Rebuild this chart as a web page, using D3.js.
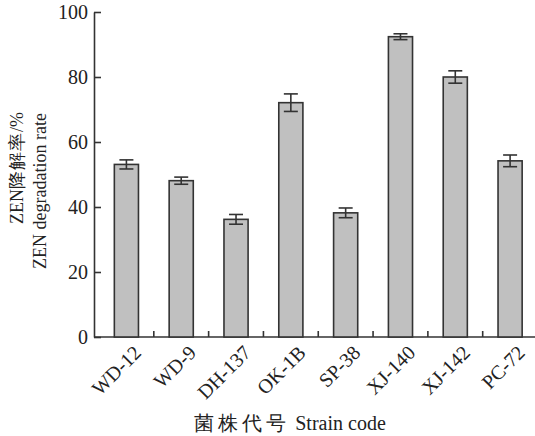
<!DOCTYPE html>
<html>
<head>
<meta charset="utf-8">
<script src="https://cdn.jsdelivr.net/npm/d3@7"></script>
<style>
  body { margin: 0; background: #fff; }
</style>
</head>
<body>
<svg width="535" height="436"></svg>
<script>
var strains = ["WD-12", "WD-9", "DH-137", "OK-1B", "SP-38", "XJ-140", "XJ-142", "PC-72"];
var rates = [53.1, 48.1, 36.2, 72.1, 38.2, 92.4, 80.0, 54.2];
var errs = [1.4, 1.1, 1.5, 2.7, 1.5, 0.9, 1.9, 1.8];
var yTicks = [0, 20, 40, 60, 80, 100];

var svg = d3.select("svg"),
    width = +svg.attr("width"),
    height = +svg.attr("height");

var ink = "#333";
var serif = "Liberation Serif, Times New Roman, serif";

var x = d3.scaleBand()
    .domain(strains)
    .range([99, 537.5])
    .paddingInner(0.56)
    .paddingOuter(0.28);

var y = d3.scaleLinear()
    .domain([0, 100])
    .range([337, 12]);

// y axis, ticks point inward
var yAxis = svg.append("g")
    .attr("transform", "translate(94,0)")
    .call(d3.axisLeft(y).tickValues(yTicks).tickSize(-7).tickSizeOuter(0).tickPadding(6));
yAxis.attr("font-family", serif).attr("font-size", 20);
yAxis.select(".domain").attr("stroke", ink).attr("stroke-width", 1.6);
yAxis.selectAll(".tick line").attr("stroke", ink).attr("stroke-width", 1.6);
yAxis.selectAll(".tick text").attr("fill", "#222");

// x axis line and ticks between bars
svg.append("line")
    .attr("x1", 94).attr("x2", 535)
    .attr("y1", y(0)).attr("y2", y(0))
    .attr("stroke", ink).attr("stroke-width", 1.6);

var step = x.step();
svg.selectAll(".xtick")
    .data(strains.slice(1))
    .enter()
    .append("line")
    .attr("class", "xtick")
    .attr("x1", function(d) { return x(d) + x.bandwidth() / 2 - step / 2; })
    .attr("x2", function(d) { return x(d) + x.bandwidth() / 2 - step / 2; })
    .attr("y1", y(0)).attr("y2", y(0) - 6)
    .attr("stroke", ink).attr("stroke-width", 1.6);

// bars
svg.selectAll(".bar")
    .data(strains)
    .enter()
    .append("rect")
    .attr("class", "bar")
    .attr("x", function(d) { return x(d); })
    .attr("y", function(d, i) { return y(rates[i]); })
    .attr("width", x.bandwidth())
    .attr("height", function(d, i) { return y(0) - y(rates[i]); })
    .attr("fill", "#c0c0c0")
    .attr("stroke", ink)
    .attr("stroke-width", 1.6);

// error bars
var cap = 7;
var eb = svg.selectAll(".err")
    .data(strains)
    .enter()
    .append("g")
    .attr("class", "err")
    .attr("stroke", ink)
    .attr("stroke-width", 1.6);

eb.append("line")
    .attr("x1", function(d) { return x(d) + x.bandwidth() / 2; })
    .attr("x2", function(d) { return x(d) + x.bandwidth() / 2; })
    .attr("y1", function(d, i) { return y(rates[i] + errs[i]); })
    .attr("y2", function(d, i) { return y(rates[i] - errs[i]); });
eb.append("line")
    .attr("x1", function(d) { return x(d) + x.bandwidth() / 2 - cap; })
    .attr("x2", function(d) { return x(d) + x.bandwidth() / 2 + cap; })
    .attr("y1", function(d, i) { return y(rates[i] + errs[i]); })
    .attr("y2", function(d, i) { return y(rates[i] + errs[i]); });
eb.append("line")
    .attr("x1", function(d) { return x(d) + x.bandwidth() / 2 - cap; })
    .attr("x2", function(d) { return x(d) + x.bandwidth() / 2 + cap; })
    .attr("y1", function(d, i) { return y(rates[i] - errs[i]); })
    .attr("y2", function(d, i) { return y(rates[i] - errs[i]); });

// x labels, rotated 45 degrees
svg.selectAll(".xlab")
    .data(strains)
    .enter()
    .append("g")
    .attr("class", "xlab")
    .attr("transform", function(d) {
        return "translate(" + (x(d) + x.bandwidth() / 2 + 16) + "," + (y(0) + 17) + ")";
    })
    .append("text")
    .attr("transform", "rotate(-45)")
    .attr("text-anchor", "end")
    .attr("fill", "#222")
    .attr("font-family", serif)
    .attr("font-size", 20)
    .text(function(d) { return d; });

// axis titles
var yt1 = svg.append("text")
    .attr("transform", "translate(23,168) rotate(-90)")
    .attr("text-anchor", "middle")
    .attr("fill", "#222")
    .attr("font-family", serif)
    .attr("font-size", 18);
yt1.append("tspan").text("ZEN");
yt1.append("tspan").attr("letter-spacing", 1).text("降解率");
yt1.append("tspan").text("/%");

svg.append("text")
    .attr("transform", "translate(46,191) rotate(-90)")
    .attr("text-anchor", "middle")
    .attr("fill", "#222")
    .attr("font-family", serif)
    .attr("font-size", 18)
    .text("ZEN degradation rate");

var xt = svg.append("text")
    .attr("x", 290)
    .attr("y", 430)
    .attr("text-anchor", "middle")
    .attr("fill", "#222")
    .attr("font-family", serif)
    .attr("font-size", 20);
xt.append("tspan").attr("letter-spacing", 4).text("菌株代号");
xt.append("tspan").text(" Strain code");
</script>
</body>
</html>
